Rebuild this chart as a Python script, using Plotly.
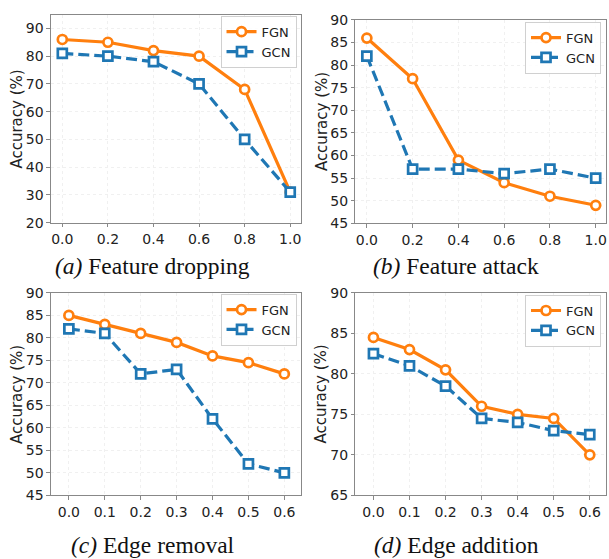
import plotly.graph_objects as go

# ---- data ----
x_feat = [0.0, 0.2, 0.4, 0.6, 0.8, 1.0]
x_edge = [0.0, 0.1, 0.2, 0.3, 0.4, 0.5, 0.6]

fgn_drop = [86, 85, 82, 80, 68, 31]
gcn_drop = [81, 80, 78, 70, 50, 31]

fgn_attack = [86, 77, 59, 54, 51, 49]
gcn_attack = [82, 57, 57, 56, 57, 55]

fgn_remove = [85, 83, 81, 79, 76, 74.5, 72]
gcn_remove = [82, 81, 72, 73, 62, 52, 50]

fgn_add = [84.5, 83, 80.5, 76, 75, 74.5, 70]
gcn_add = [82.5, 81, 78.5, 74.5, 74, 73, 72.5]

captions = ["<i>(a)</i> Feature dropping", "<i>(b)</i> Feature attack",
            "<i>(c)</i> Edge removal", "<i>(d)</i> Edge addition"]

W, H = 609, 559
ORANGE = "#ff7f0e"
BLUE = "#1f77b4"

panels = [
    dict(x=x_feat, f=fgn_drop, g=gcn_drop, px=(51, 301), py=(6.7, 221), yr=[20, 95], dy=10, xr=[-0.05, 1.045], dx=0.2),
    dict(x=x_feat, f=fgn_attack, g=gcn_attack, px=(356, 607), py=(12.3, 221.7), yr=[45, 90], dy=5, xr=[-0.05, 1.045], dx=0.2),
    dict(x=x_edge, f=fgn_remove, g=gcn_remove, px=(51, 301), py=(293.3, 501.7), yr=[45, 90], dy=5, xr=[-0.05, 0.645], dx=0.1),
    dict(x=x_edge, f=fgn_add, g=gcn_add, px=(356, 607), py=(293.3, 501.7), yr=[65, 90], dy=5, xr=[-0.05, 0.645], dx=0.1),
]
legend_pos = [(297, 8), (602, 14), (297, 294), (602, 295)]
caption_pos = [(153, 266), (457, 266), (153, 553), (457, 553)]

fig = go.Figure()
layout = dict(
    width=W, height=H, margin=dict(l=0, r=0, t=0, b=0),
    paper_bgcolor="white", plot_bgcolor="white", showlegend=True,
    font=dict(family="DejaVu Sans", size=13, color="#222"),
)
annotations = []
for i, p in enumerate(panels):
    n = "" if i == 0 else str(i + 1)
    xa, ya = "x" + n, "y" + n
    leg = "legend" + n
    fig.add_trace(go.Scatter(
        x=p["x"], y=p["f"], name="FGN", xaxis=xa, yaxis=ya, legend=leg,
        mode="lines+markers",
        line=dict(color=ORANGE, width=3.2),
        marker=dict(symbol="circle", size=9, color="white", line=dict(color=ORANGE, width=2.7)),
    ))
    fig.add_trace(go.Scatter(
        x=p["x"], y=p["g"], name="GCN", xaxis=xa, yaxis=ya, legend=leg,
        mode="lines+markers",
        line=dict(color=BLUE, width=3.2, dash="11px,5px"),
        marker=dict(symbol="square", size=9, color="white", line=dict(color=BLUE, width=2.7)),
    ))
    common = dict(showline=True, mirror=True, linecolor="#888", linewidth=1,
                  showgrid=True, gridcolor="#f0f0f0", griddash="dot", gridwidth=1,
                  ticks="outside", ticklen=3.5, tickcolor="#888", zeroline=False,
                  tickfont=dict(family="DejaVu Sans", size=14, color="#222"))
    layout["xaxis" + n] = dict(
        domain=[p["px"][0] / W, p["px"][1] / W], anchor=ya, range=p["xr"],
        tickmode="linear", tick0=0, dtick=p["dx"], tickformat=".1f", **common)
    layout["yaxis" + n] = dict(
        domain=[1 - p["py"][1] / H, 1 - p["py"][0] / H], anchor=xa, range=p["yr"],
        tickmode="linear", tick0=0, dtick=p["dy"], **common)
    lx, ly = legend_pos[i]
    layout[leg] = dict(
        x=lx / W, y=1 - ly / H, xanchor="right", yanchor="top",
        bgcolor="rgba(255,255,255,0.85)", bordercolor="#d0d0d0", borderwidth=1,
        font=dict(family="DejaVu Sans", size=13, color="#222"),
        tracegroupgap=0, itemwidth=30,
    )
    annotations.append(dict(
        text="Accuracy (%)", textangle=-90, xref="paper", yref="paper",
        x=(p["px"][0] - 34) / W, y=1 - (p["py"][0] + p["py"][1]) / 2 / H,
        xanchor="center", yanchor="middle", showarrow=False,
        font=dict(family="DejaVu Sans", size=15, color="#222"),
    ))
    cx, cy = caption_pos[i]
    annotations.append(dict(
        text=captions[i], xref="paper", yref="paper", x=cx / W, y=1 - cy / H,
        xanchor="center", yanchor="middle", showarrow=False,
        font=dict(family="Liberation Serif", size=23.5, color="#111"),
    ))
layout["annotations"] = annotations
fig.update_layout(**layout)
fig.write_html(
    "out.html",
    config={"displayModeBar": False},
    post_script="document.body.style.margin='0';document.body.style.overflow='hidden';",
)
